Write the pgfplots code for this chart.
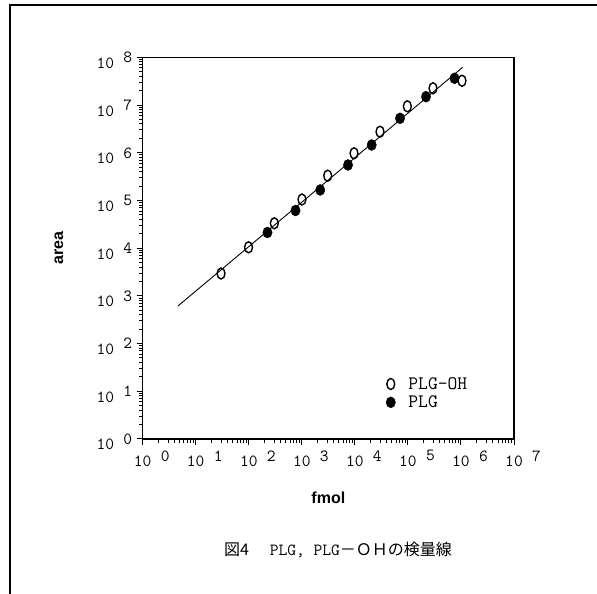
\documentclass[border=0pt]{standalone}
\usepackage{fontspec}
\usepackage{pgfplots}
\pgfplotsset{compat=1.18}
\setmainfont{Liberation Serif}
\newfontfamily\boldsans{Liberation Sans}
\newfontfamily\cjk{Noto Sans CJK JP}
\newcommand{\xl}[1]{10\rlap{\hspace{0.55em}\raisebox{0.33em}{#1}}}
\newcommand{\yl}[1]{10\hspace{0.55em}\raisebox{0.33em}{#1}}

\pgfplotstableread{
x y
30 2944
99 10420
303 33190
1007 104700
3076 330400
9640 972800
29790 2760000
97500 9397000
297000 22440000
1047000 32210000
}\openpts

\pgfplotstableread{
x y
225 21280
760 61520
2223 165600
7430 553400
20750 1452000
70960 5272000
219300 14960000
756800 36310000
}\filledpts

\begin{document}
\begin{tikzpicture}
\path[use as bounding box] (0,0) rectangle (597pt,594pt);
\draw[line width=2pt] (9.5pt,0) -- (9.5pt,588.5pt) -- (597pt,588.5pt);
\begin{axis}[
  at={(142.7pt,155pt)}, anchor=south west,
  scale only axis, width=371.3pt, height=381.7pt,
  xmode=log, ymode=log, xmin=1, xmax=1e7, ymin=1, ymax=1e8,
  xtickten={0,...,7}, ytickten={0,...,8},
  xticklabels={\xl{0},\xl{1},\xl{2},\xl{3},\xl{4},\xl{5},\xl{6},\xl{7}},
  yticklabels={\yl{0},\yl{1},\yl{2},\yl{3},\yl{4},\yl{5},\yl{6},\yl{7},\yl{8}},
  tick pos=left,
  tick align=outside, major tick length=6pt, minor tick length=4pt,
  axis line style={line width=1.5pt},
  every tick/.style={black, line width=1pt},
  tick label style={font=\ttfamily\fontsize{17}{17}\selectfont},
  xticklabel style={anchor=north, yshift=-2pt},
  yticklabel style={anchor=east, yshift=-3pt, xshift=-1pt},
  xlabel={\boldsans\bfseries fmol},
  ylabel={\boldsans\bfseries area},
  label style={font=\boldsans\bfseries\fontsize{16}{16}\selectfont},
  xlabel style={at={(axis description cs:0.5,-0.1546)}, anchor=center},
  ylabel style={at={(axis description cs:-0.2254,0.5)}, anchor=center, rotate=0},
  legend cell align=left,
  legend style={at={(axis description cs:0.655,0.12)}, anchor=west, draw=none, fill=none,
    font=\ttfamily\fontsize{19}{19}\selectfont, row sep=3pt, inner sep=0pt,
    nodes={inner sep=1pt},
    /tikz/every odd column/.append style={column sep=12pt}},
  legend image code/.code={\draw[#1] plot coordinates {(0cm,0cm)};},
  reverse legend,
  clip=false,
]
\addplot[black, line width=0.9pt] coordinates {(4.63,614) (1079000,61800000)};
\addplot[only marks, mark=*, mark size=5.5pt, black, mark options={xscale=0.85}] table[x=x,y=y] {\filledpts};
\addlegendentry{PLG}
\addplot[only marks, mark=o, mark size=5.5pt, black, mark options={xscale=0.72, line width=1.4pt, fill=white}] table[x=x,y=y] {\openpts};
\addlegendentry{PLG-OH}
\end{axis}
\node[anchor=center] at (338pt,44pt) {\cjk\fontsize{16}{16}\selectfont 図4\hspace{1.3em}{\ttfamily\fontsize{17}{17}\selectfont PLG, PLG}－ＯＨの検量線};
\end{tikzpicture}
\end{document}
